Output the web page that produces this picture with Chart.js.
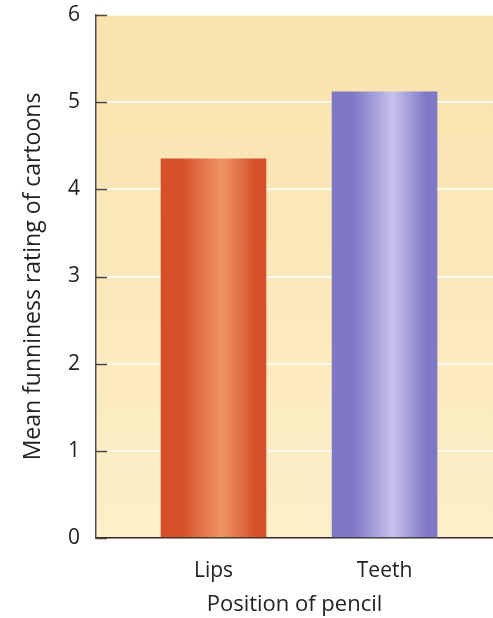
<!DOCTYPE html>
<html>
<head>
<meta charset="utf-8">
<script src="https://cdn.jsdelivr.net/npm/chart.js@4/dist/chart.umd.min.js"></script>
<style>
  html, body { margin: 0; padding: 0; background: #ffffff; overflow: hidden; }
  #wrap { width: 493px; height: 618px; }
</style>
</head>
<body>
<div id="wrap"><canvas id="chart"></canvas></div>
<script>
const categories = ['Lips', 'Teeth'];
const ratings = [4.35, 5.12];
const yTicks = [0, 1, 2, 3, 4, 5, 6];

// bar shading: edge colour, highlight colour
const barShades = [
    ['#d6512a', '#ef9464'],
    ['#7f78c6', '#c8c2ec']
];

const font = "'Open Sans', 'Noto Sans', sans-serif";

function barGradient(context) {
    const chart = context.chart;
    const area = chart.chartArea;
    const i = context.dataIndex;
    if (!area || i === undefined) return barShades[0][0];
    const xs = chart.scales.x;
    const cx = xs.getPixelForValue(i + 1);
    const half = 52.5;
    const g = chart.ctx.createLinearGradient(cx - half, 0, cx + half, 0);
    const [edge, light] = barShades[i];
    g.addColorStop(0, edge);
    g.addColorStop(0.2, edge);
    g.addColorStop(0.58, light);
    g.addColorStop(0.9, edge);
    g.addColorStop(1, edge);
    return g;
}

// pale yellow plot background
const plotBackground = {
    id: 'plotBackground',
    beforeDraw(chart) {
        const { ctx, chartArea } = chart;
        const g = ctx.createLinearGradient(0, chartArea.top, 0, chartArea.bottom);
        g.addColorStop(0, '#f9e2ad');
        g.addColorStop(1, '#fdefc8');
        ctx.save();
        ctx.fillStyle = g;
        ctx.fillRect(chartArea.left, chartArea.top, chartArea.right - chartArea.left, chartArea.bottom - chartArea.top);
        ctx.restore();
    }
};

// short dark tick marks pointing into the plot
const innerTicks = {
    id: 'innerTicks',
    afterDatasetsDraw(chart) {
        const { ctx, chartArea } = chart;
        const ys = chart.scales.y;
        ctx.save();
        ctx.strokeStyle = '#4a4038';
        ctx.lineWidth = 1.5;
        yTicks.forEach(v => {
            const y = Math.round(ys.getPixelForValue(v)) + 0.5;
            ctx.beginPath();
            ctx.moveTo(chartArea.left, y);
            ctx.lineTo(chartArea.left + 11, y);
            ctx.stroke();
        });
        ctx.restore();
    }
};

const ctx = document.getElementById('chart').getContext('2d');

new Chart(ctx, {
    type: 'bar',
    data: {
        datasets: [{
            data: ratings.map((v, i) => ({ x: i + 1, y: v })),
            backgroundColor: barGradient,
            borderWidth: 0,
            barThickness: 105
        }]
    },
    options: {
        responsive: true,
        maintainAspectRatio: false,
        animation: false,
        layout: { padding: { top: 15, right: 0, left: 0, bottom: 0 } },
        plugins: {
            legend: { display: false },
            tooltip: { enabled: false }
        },
        scales: {
            x: {
                type: 'linear',
                offset: false,
                min: 0.313,
                max: 2.634,
                afterBuildTicks(scale) {
                    scale.ticks = categories.map((c, i) => ({ value: i + 1 }));
                },
                afterFit(scale) { scale.height = 80; },
                grid: { display: false, drawTicks: false, offset: false },
                border: { display: true, color: '#2e2a28', width: 1.5 },
                ticks: {
                    padding: 20,
                    color: '#222222',
                    font: { family: font, size: 21 },
                    callback: v => categories[v - 1]
                },
                title: {
                    display: true,
                    text: 'Position of pencil',
                    color: '#222222',
                    font: { family: font, size: 22 },
                    padding: { top: 0, bottom: 0 }
                }
            },
            y: {
                min: 0,
                max: 6,
                afterBuildTicks(scale) {
                    scale.ticks = yTicks.map(v => ({ value: v }));
                },
                afterFit(scale) {
                    scale.width = 96;
                    scale.paddingTop = 0;
                    scale.paddingBottom = 0;
                },
                grid: {
                    color: ctx => ctx.tick && ctx.tick.value === 0 ? 'rgba(0,0,0,0)' : '#fffaf0',
                    lineWidth: 2,
                    drawTicks: false
                },
                border: { display: true, color: '#5a5048', width: 1.5 },
                ticks: {
                    padding: 16,
                    color: '#222222',
                    font: { family: font, size: 21 }
                },
                title: {
                    display: true,
                    text: 'Mean funniness rating of cartoons',
                    color: '#222222',
                    font: { family: font, size: 23 },
                    padding: { top: 20, bottom: 0 }
                }
            }
        }
    },
    plugins: [plotBackground, innerTicks]
});
</script>
</body>
</html>
